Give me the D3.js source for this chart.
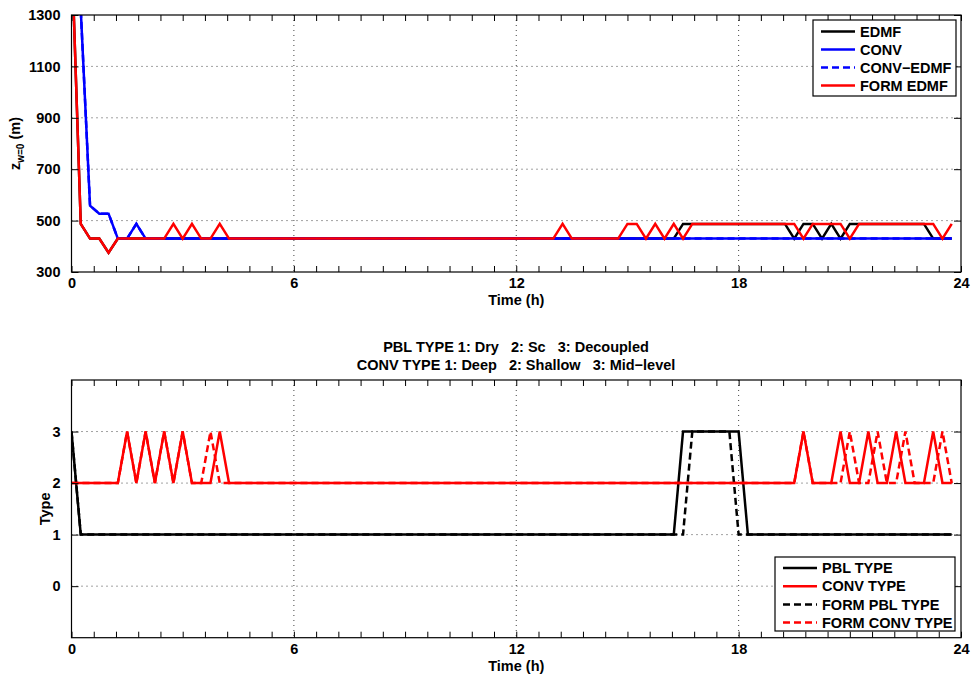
<!DOCTYPE html>
<html><head><meta charset="utf-8">
<script src="https://cdn.jsdelivr.net/npm/d3@7"></script>
<style>
html,body{margin:0;padding:0;background:#fff;}
text{font-family:"Liberation Sans",Arial,Helvetica,sans-serif;font-weight:bold;font-size:14.5px;fill:#000;white-space:pre;}
</style></head>
<body><svg id="c" width="973" height="681"></svg>
<script>
// ---- data (15-min samples, 0 to 23.75 h) ----
const timeStep = 0.25;
const edmf = [
 1570,487,430,430,375,430,430,430, 430,430,430,430,430,430,430,430,
 430,430,430,430,430,430,430,430, 430,430,430,430,430,430,430,430,
 430,430,430,430,430,430,430,430, 430,430,430,430,430,430,430,430,
 430,430,430,430,430,430,430,430, 430,430,430,430,430,430,430,430,
 430,430,487,487,487,487,487,487, 487,487,487,487,487,487,430,487,
 487,430,487,430,487,487,487,487, 487,487,487,487,487,430,430,430];
const conv = [
 2000,1320,558,527,527,430,430,487, 430,430,430,430,430,430,430,430,
 430,430,430,430,430,430,430,430, 430,430,430,430,430,430,430,430,
 430,430,430,430,430,430,430,430, 430,430,430,430,430,430,430,430,
 430,430,430,430,430,430,430,430, 430,430,430,430,430,430,430,430,
 430,430,430,430,430,430,430,430, 430,430,430,430,430,430,430,430,
 430,430,430,430,430,430,430,430, 430,430,430,430,430,430,430,430];
const convEdmf = [
 2000,1320,558,527,527,430,430,487, 430,430,430,430,430,430,430,430,
 430,430,430,430,430,430,430,430, 430,430,430,430,430,430,430,430,
 430,430,430,430,430,430,430,430, 430,430,430,430,430,430,430,430,
 430,430,430,430,430,430,430,430, 430,430,430,430,430,430,430,430,
 430,430,430,430,430,430,430,430, 430,430,430,430,430,430,430,430,
 430,430,430,430,430,430,430,430, 430,430,430,430,430,430,430,430];
const formEdmf = [
 1570,487,430,430,375,430,430,430, 430,430,430,487,430,487,430,430,
 487,430,430,430,430,430,430,430, 430,430,430,430,430,430,430,430,
 430,430,430,430,430,430,430,430, 430,430,430,430,430,430,430,430,
 430,430,430,430,430,487,430,430, 430,430,430,430,487,487,430,487,
 430,487,430,487,487,487,487,487, 487,487,487,487,487,487,487,430,
 487,487,487,487,430,487,487,487, 487,487,487,487,487,487,430,487];

const pblType = [
 3,1,1,1,1,1,1,1, 1,1,1,1,1,1,1,1,
 1,1,1,1,1,1,1,1, 1,1,1,1,1,1,1,1,
 1,1,1,1,1,1,1,1, 1,1,1,1,1,1,1,1,
 1,1,1,1,1,1,1,1, 1,1,1,1,1,1,1,1,
 1,1,3,3,3,3,3,3, 3,1,1,1,1,1,1,1,
 1,1,1,1,1,1,1,1, 1,1,1,1,1,1,1,1];
const convType = [
 2,2,2,2,2,2,3,2, 3,2,3,2,3,2,2,2,
 3,2,2,2,2,2,2,2, 2,2,2,2,2,2,2,2,
 2,2,2,2,2,2,2,2, 2,2,2,2,2,2,2,2,
 2,2,2,2,2,2,2,2, 2,2,2,2,2,2,2,2,
 2,2,2,2,2,2,2,2, 2,2,2,2,2,2,2,3,
 2,2,2,3,2,2,3,2, 2,3,2,2,2,3,2,2];
const formPblType = [
 3,1,1,1,1,1,1,1, 1,1,1,1,1,1,1,1,
 1,1,1,1,1,1,1,1, 1,1,1,1,1,1,1,1,
 1,1,1,1,1,1,1,1, 1,1,1,1,1,1,1,1,
 1,1,1,1,1,1,1,1, 1,1,1,1,1,1,1,1,
 1,1,1,3,3,3,3,3, 1,1,1,1,1,1,1,1,
 1,1,1,1,1,1,1,1, 1,1,1,1,1,1,1,1];
const formConvType = [
 2,2,2,2,2,2,3,2, 3,2,3,2,3,2,2,3,
 2,2,2,2,2,2,2,2, 2,2,2,2,2,2,2,2,
 2,2,2,2,2,2,2,2, 2,2,2,2,2,2,2,2,
 2,2,2,2,2,2,2,2, 2,2,2,2,2,2,2,2,
 2,2,2,2,2,2,2,2, 2,2,2,2,2,2,2,3,
 2,2,2,2,3,2,2,3, 2,2,3,2,2,2,3,2];

const xTickLabels = [0, 6, 12, 18, 24];
const xMinorTicks = d3.range(0, 24.001, 0.6);
const topYTicks = [300, 500, 700, 900, 1100, 1300];
const botYTicks = [0, 1, 2, 3];

const topSeries = [
 {name:"EDMF", values:edmf, color:"#000000", dash:null},
 {name:"CONV", values:conv, color:"#0000ff", dash:null},
 {name:"CONV\u2212EDMF", values:convEdmf, color:"#0000ff", dash:"7,4"},
 {name:"FORM EDMF", values:formEdmf, color:"#ff0000", dash:null}];
const botSeries = [
 {name:"PBL TYPE", values:pblType, color:"#000000", dash:null},
 {name:"CONV TYPE", values:convType, color:"#ff0000", dash:null},
 {name:"FORM PBL TYPE", values:formPblType, color:"#000000", dash:"7,4"},
 {name:"FORM CONV TYPE", values:formConvType, color:"#ff0000", dash:"7,4"}];

// ---- drawing ----
const svg = d3.select("#c");
const X0 = 71.5, X1 = 961;

function panel(id, top, bottom, ydom, yticks, gridY, series, ylabelFn, legendBox) {
  const x = d3.scaleLinear().domain([0, 24]).range([X0, X1]);
  const y = d3.scaleLinear().domain(ydom).range([bottom, top]);
  const g = svg.append("g");
  const gridC = "#444";
  g.selectAll(".gx").data([6, 12, 18]).join("line")
    .attr("x1", d => x(d)).attr("x2", d => x(d)).attr("y1", top).attr("y2", bottom)
    .attr("stroke", gridC).attr("stroke-width", 1).attr("stroke-dasharray", "1,4");
  g.selectAll(".gy").data(gridY).join("line")
    .attr("x1", X0).attr("x2", X1).attr("y1", d => y(d)).attr("y2", d => y(d))
    .attr("stroke", gridC).attr("stroke-width", 1).attr("stroke-dasharray", "1,4");
  svg.append("clipPath").attr("id", id).append("rect")
    .attr("x", X0).attr("y", top).attr("width", X1 - X0).attr("height", bottom - top);
  const line = d3.line().x((d, i) => x(i * timeStep)).y(d => y(d));
  const lg = g.append("g").attr("clip-path", `url(#${id})`);
  series.forEach(s => {
    lg.append("path").attr("d", line(s.values)).attr("fill", "none")
      .attr("stroke", s.color).attr("stroke-width", 2.5)
      .attr("stroke-linejoin", "miter").attr("stroke-dasharray", s.dash);
  });
  const ax = (a, tr) => { const gg = g.append("g").attr("transform", tr).call(a); gg.select(".domain").remove(); return gg; };
  ax(d3.axisBottom(x).tickValues(xMinorTicks).tickSizeInner(-6).tickSizeOuter(0).tickFormat(""), `translate(0,${bottom})`);
  ax(d3.axisTop(x).tickValues(xMinorTicks).tickSizeInner(-6).tickSizeOuter(0).tickFormat(""), `translate(0,${top})`);
  ax(d3.axisBottom(x).tickValues(xTickLabels).tickSize(0).tickPadding(6).tickFormat(d3.format("d")), `translate(0,${bottom})`);
  ax(d3.axisLeft(y).tickValues(yticks).tickSizeInner(-7).tickSizeOuter(0).tickPadding(11).tickFormat(d3.format("d")), `translate(${X0},0)`);
  ax(d3.axisRight(y).tickValues(yticks).tickSizeInner(-7).tickSizeOuter(0).tickFormat(""), `translate(${X1},0)`);
  g.selectAll(".tick line").attr("stroke", "#000").attr("stroke-width", 1);
  g.selectAll(".tick text").style("font-size", "14.5px").style("font-family", '"Liberation Sans",Arial,sans-serif').style("font-weight", "bold");
  g.append("rect").attr("x", X0).attr("y", top).attr("width", X1 - X0).attr("height", bottom - top)
    .attr("fill", "none").attr("stroke", "#000").attr("stroke-width", 1.2);
  g.append("text").attr("x", (X0 + X1) / 2).attr("y", bottom + 33).attr("text-anchor", "middle").text("Time (h)");
  ylabelFn(g, (top + bottom) / 2);
  const L = legendBox;
  const lgd = g.append("g");
  lgd.append("rect").attr("x", L.x).attr("y", L.y).attr("width", L.w).attr("height", L.h)
    .attr("fill", "#fff").attr("stroke", "#000").attr("stroke-width", 1.2);
  series.forEach((s, i) => {
    const yy = L.y + L.row0 + i * L.dy;
    lgd.append("line").attr("x1", L.x + 8).attr("x2", L.x + 42).attr("y1", yy).attr("y2", yy)
      .attr("stroke", s.color).attr("stroke-width", 2.5).attr("stroke-dasharray", s.dash);
    lgd.append("text").attr("x", L.x + 47).attr("y", yy).attr("dy", "0.36em").text(s.name);
  });
  return {x, y};
}

panel("clipTop", 15, 272, [300, 1300], topYTicks, [500, 700, 900, 1100], topSeries, (g, cy) => {
  const t = g.append("text").attr("transform", `translate(20,${cy}) rotate(-90)`).attr("text-anchor", "middle");
  t.append("tspan").text("z");
  t.append("tspan").attr("dy", 4).style("font-size", "10px").text("w=0");
  t.append("tspan").attr("dy", -4).text(" (m)");
}, {x: 813, y: 20, w: 143, h: 76, row0: 11.5, dy: 18});

panel("clipBot", 380, 637.7, [-1, 4], botYTicks, [0, 1, 2, 3], botSeries, (g, cy) => {
  g.append("text").attr("transform", `translate(50,${cy}) rotate(-90)`).attr("text-anchor", "middle").text("Type");
}, {x: 775, y: 557, w: 180, h: 74, row0: 11, dy: 18.2});

svg.append("text").attr("x", 516).attr("y", 352).attr("text-anchor", "middle").text("PBL TYPE 1: Dry   2: Sc   3: Decoupled");
svg.append("text").attr("x", 516).attr("y", 370).attr("text-anchor", "middle").text("CONV TYPE 1: Deep   2: Shallow   3: Mid\u2212level");
</script></body></html>
